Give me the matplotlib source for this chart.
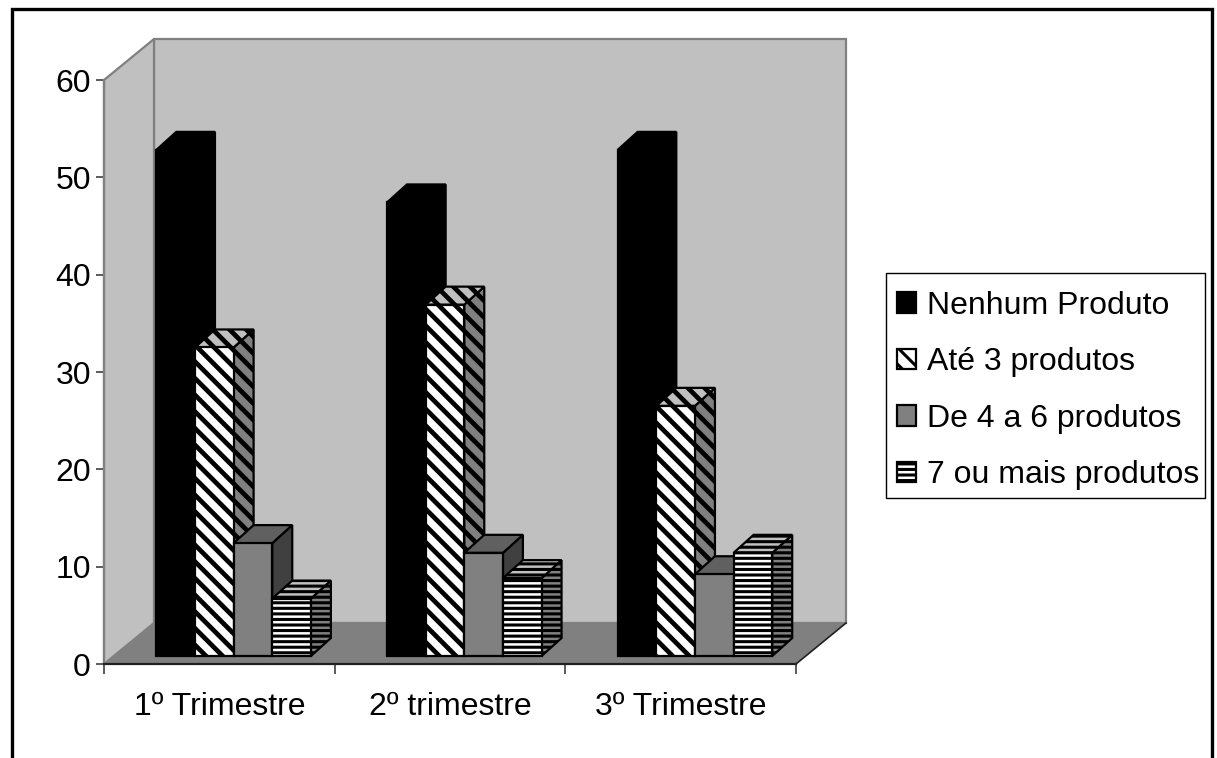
import matplotlib
matplotlib.use('Agg')
import matplotlib.pyplot as plt
from matplotlib.patches import Polygon, Rectangle
import numpy as np

plt.rcParams['font.family'] = ['Liberation Sans', 'DejaVu Sans']

# Dados do gráfico
trimestres = ['1º Trimestre', '2º trimestre', '3º Trimestre']
series = ['Nenhum Produto', 'Até 3 produtos', 'De 4 a 6 produtos', '7 ou mais produtos']
nenhum = [52, 46.6, 52]
ate_3 = [31.7, 36.1, 25.7]
de_4_a_6 = [11.6, 10.6, 8.4]
mais_de_7 = [5.9, 8.0, 10.6]
valores = [nenhum, ate_3, de_4_a_6, mais_de_7]
y_ticks = [0, 10, 20, 30, 40, 50, 60]

# Estilo de cada série: frente, topo, lado, hachura, espessura da hachura
frente = ['black', 'white', '#808080', 'white']
topo = ['black', '#c0c0c0', '#606060', '#c0c0c0']
lado = ['black', '#808080', '#404040', '#808080']
hachura = [None, '\\\\', None, '---']
esp_hachura = [1, 3.4, 1, 2.2]

# Profundidade do efeito 3D (em unidades dos eixos)
parede_dx, parede_dy = 0.2168, 4.21
barra_dx, barra_dy = 0.0866, 1.85
base_dx, base_dy = 0.062, 0.82
largura = 0.1675

W, H = 1217, 758
fig = plt.figure(figsize=(W / 100, H / 100), dpi=100)
ax = fig.add_axes([104 / W, (H - 664) / H, 692 / W, 584 / H])
ax.set_xlim(-0.5, 2.5)
ax.set_ylim(0, 60)
ax.patch.set_visible(False)

# Moldura externa (sem borda inferior visível)
fig.add_artist(Rectangle((11.5 / W, -0.05), (1212 - 11.5) / W, 1.05 - 8.5 / H, fill=False,
                         edgecolor='black', linewidth=2.4, transform=fig.transFigure))

# Paredes e chão
x0, x1 = ax.get_xlim()
y0, y1 = ax.get_ylim()
cinza = '#808080'
ax.add_patch(Polygon([(x0 + parede_dx, y0 + parede_dy), (x1 + parede_dx, y0 + parede_dy),
                      (x1 + parede_dx, y1 + parede_dy), (x0 + parede_dx, y1 + parede_dy)],
                     facecolor='#c0c0c0', edgecolor=cinza, linewidth=1.6, clip_on=False, zorder=1))
ax.add_patch(Polygon([(x0, y0), (x0 + parede_dx, y0 + parede_dy),
                      (x0 + parede_dx, y1 + parede_dy), (x0, y1)],
                     facecolor='#c0c0c0', edgecolor=cinza, linewidth=1.6, clip_on=False, zorder=1))
ax.add_patch(Polygon([(x0, y0), (x1, y0), (x1 + parede_dx, y0 + parede_dy), (x0 + parede_dx, y0 + parede_dy)],
                     facecolor=cinza, edgecolor='none', clip_on=False, zorder=1.5))
ax.plot([x1, x1 + parede_dx], [y0, y0 + parede_dy], color='#202020', linewidth=1.2, clip_on=False, zorder=1.6)

# Barras: lado, topo e frente, da esquerda para a direita
handles = []
z = 2
for g in range(len(trimestres)):
    for s in range(len(series)):
        plt.rcParams['hatch.linewidth'] = esp_hachura[s]
        borda = 'black'
        v = valores[s][g]
        x_esq = g + base_dx + (s - 2) * largura
        x_dir = x_esq + largura
        base = base_dy
        alto = base + v
        ax.add_patch(Polygon([(x_dir, base), (x_dir + barra_dx, base + barra_dy),
                              (x_dir + barra_dx, alto + barra_dy), (x_dir, alto)],
                             facecolor=lado[s], edgecolor=borda, hatch=hachura[s], linewidth=1.6,
                             clip_on=False, zorder=z))
        ax.add_patch(Polygon([(x_esq, alto), (x_dir, alto), (x_dir + barra_dx, alto + barra_dy),
                              (x_esq + barra_dx, alto + barra_dy)],
                             facecolor=topo[s], edgecolor=borda, hatch=hachura[s], linewidth=1.6,
                             clip_on=False, zorder=z))
        b = ax.bar(x_esq, v, width=largura, bottom=base, align='edge', color=frente[s], edgecolor=borda,
                   hatch=hachura[s], linewidth=1.6, zorder=z + 0.5)
        if g == 0:
            handles.append(b[0])
        z += 1

# Eixos
for nome in ['top', 'right']:
    ax.spines[nome].set_visible(False)
ax.spines['left'].set_color(cinza)
ax.spines['left'].set_linewidth(1.6)
ax.spines['bottom'].set_color('#202020')
ax.spines['bottom'].set_linewidth(1.6)
ax.spines['left'].set_zorder(1.7)
ax.spines['bottom'].set_zorder(1.7)

ax.set_yticks(y_ticks)
ax.tick_params(axis='y', labelsize=23, length=6, width=1.2, color='#404040', pad=3.5)
ax.set_xticks(np.arange(len(trimestres)))
ax.set_xticklabels(trimestres)
ax.tick_params(axis='x', which='major', labelsize=23, length=0, pad=20)
ax.set_xticks(np.arange(len(trimestres) + 1) - 0.5, minor=True)
ax.tick_params(axis='x', which='minor', length=7, width=1.2, color='#404040')

# Legenda, com a caixa desenhada à parte
fig.add_artist(Rectangle((886 / W, 1 - 498 / H), 319 / W, 225 / H, fill=False, edgecolor='black',
                         linewidth=1.0, transform=fig.transFigure))
leg = ax.legend(handles, series, loc='upper left', bbox_to_anchor=(886 / W, 1 - 280 / H),
                bbox_transform=fig.transFigure, fontsize=23, frameon=False, borderaxespad=0,
                handlelength=0.6, handleheight=0.6, handletextpad=0.33, labelspacing=0.83, borderpad=0.34)
leg.set_zorder(100)

fig.savefig('out.png', dpi=100)
